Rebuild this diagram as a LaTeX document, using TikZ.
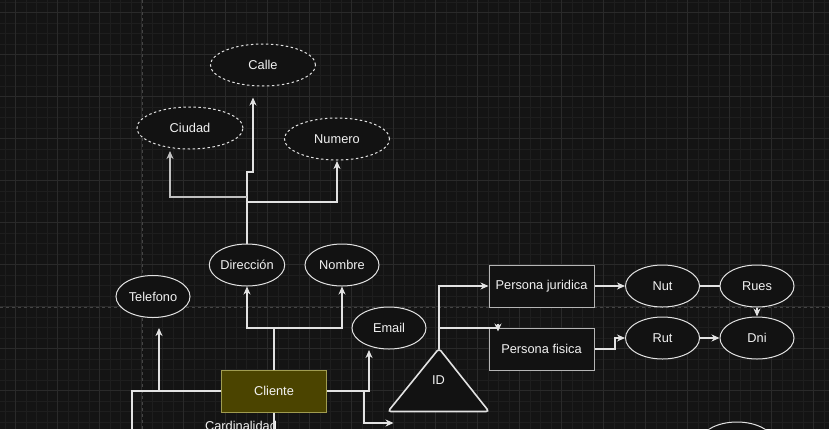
\documentclass[tikz,border=0pt]{standalone}
\usepackage{fontspec}
\setmainfont{Liberation Sans}
\usetikzlibrary{arrows.meta,shapes.geometric}
\definecolor{bgc}{HTML}{141414}
\definecolor{gminor}{HTML}{1E1E1E}
\definecolor{gmajor}{HTML}{2A2A2A}
\definecolor{pbreak}{HTML}{444444}
\definecolor{strk}{HTML}{E2E2E2}
\definecolor{fillc}{HTML}{121212}
\definecolor{olive}{HTML}{4B4400}
\definecolor{oliveb}{HTML}{A09C50}
\definecolor{txt}{HTML}{F2F2F2}
\tikzset{
  lbl/.style={text=txt, font=\fontsize{12.8}{15}\selectfont},
  attr/.style={lbl, ellipse, draw=strk, fill=fillc, line width=1pt, minimum width=74pt, minimum height=42pt, inner sep=0pt},
  dattr/.style={attr, minimum width=105pt, dash pattern=on 2.5pt off 2.5pt},
  ent/.style={lbl, rectangle, draw=strk!80!black, fill=fillc, line width=1pt, minimum width=105pt, minimum height=42pt, inner sep=0pt},
  conn/.style={draw=strk, line width=1.2pt},
  arr/.style={conn, -{Stealth[length=8pt,width=7pt,inset=2.5pt]}},
}
\begin{document}
\begin{tikzpicture}[x=1pt,y=-1pt]
\useasboundingbox (0,0) rectangle (829,429);
\clip (0,0) rectangle (829,429);
\fill[bgc] (0,0) rectangle (829,429);
% grid
\foreach \i in {0,...,79} {\draw[gminor, line width=0.6pt] ({4.8+10.5*\i},0) -- ({4.8+10.5*\i},429);}
\foreach \i in {0,...,41} {\draw[gminor, line width=0.6pt] (0,{1.8+10.5*\i}) -- (829,{1.8+10.5*\i});}
\foreach \i in {0,...,19} {\draw[gmajor, line width=0.8pt] ({15.3+42*\i},0) -- ({15.3+42*\i},429);}
\foreach \i in {0,...,10} {\draw[gmajor, line width=0.8pt] (0,{12.3+42*\i}) -- (829,{12.3+42*\i});}
\draw[pbreak, dash pattern=on 3pt off 3pt, line width=0.8pt] (142,0) -- (142,429);
\draw[pbreak, dash pattern=on 3pt off 3pt, line width=0.8pt] (0,307) -- (829,307);

% nodes
\node[dattr] (calle) at (263,65) {Calle};
\node[dattr, minimum width=106pt] (ciu) at (190,128) {Ciudad};
\node[dattr] (num) at (337,139) {Numero};
\node[attr] (dir) at (247,265) {Dirección};
\node[attr] (nom) at (342,265) {Nombre};
\node[attr] (tel) at (153,296.5) {Telefono};
\node[attr] (ema) at (389,328) {Email};
\node[ent, fill=olive, draw=oliveb] (cli) at (274,391) {Cliente};
\node[lbl, anchor=base] (card) at (241,430) {Cardinalidad};
\node[ent] (pj) at (541.5,286) {Persona juridica};
\node[ent] (pf) at (541.5,349) {Persona fisica};
\node[attr] (nut) at (662.5,286) {Nut};
\node[attr] (rues) at (757,286) {Rues};
\node[attr] (rut) at (662.5,338) {Rut};
\node[attr] (dni) at (757,338) {Dni};
\node[attr] (extra) at (737,443) {};
% ID triangle
\draw[strk, fill=fillc, line width=1.6pt, rounded corners=3pt] (439,348.5) -- (489,411.5) -- (388,411.5) -- cycle;
\coordinate (idtop) at (439,348.5);
\node[lbl] (id) at (438.5,380) {ID};

% coordinates
\coordinate (d0) at (247,172);
\coordinate (d0b) at (253,172);
\coordinate (calleT) at (253,97.5);
\coordinate (d1) at (247,197);
\coordinate (ciuT) at (170,151);
\coordinate (d2) at (247,202);
\coordinate (numT) at (337,161);
\coordinate (j1) at (274,328);
\coordinate (cl) at (132,391);
\coordinate (clB) at (132,429);
\coordinate (t0) at (159,391);
\coordinate (telT) at (159,328);
\coordinate (e0) at (369,391);
\coordinate (emaT) at (369,350);
\coordinate (r0) at (364,391);
\coordinate (r1) at (364,423);
\coordinate (idT) at (393.5,423);
\coordinate (cliB) at (274,429);
\coordinate (i1) at (439,286);
\coordinate (i2) at (439,328);
\coordinate (i3) at (498,328);
\coordinate (i3a) at (498,323.5);
\coordinate (pfT) at (498,331.5);
\coordinate (f1) at (615,349);
\coordinate (f2) at (615,338);

% connectors
\draw[arr] (dir.north) -- (d0) -- (d0b) -- (calleT);
\draw[arr, draw=strk!85!black] (d1) -| (ciuT);
\draw[arr] (d2) -| (numT);
\draw[arr] (cli.north) -- (j1) -| (dir.south);
\draw[arr] (j1) -| (nom.south);
\draw[conn] (cli.west) -- (cl) -- (clB);
\draw[arr] (t0) -- (telT);
\draw[arr] (cli.east) -- (e0) -- (emaT);
\draw[arr] (r0) -- (r1) -- (idT);
\draw[conn] (cli.south) -- (cliB);
\draw[arr] (idtop) -- (i1) -- (pj.west);
\draw[conn] (i2) -- (i3);
\draw[arr] (i3a) -- (pfT);
\draw[arr] (pj.east) -- (nut.west);
\draw[conn] (nut.east) -- (rues.west);
\draw[arr] (rues.south) -- (dni.north);
\draw[arr] (pf.east) -- (f1) -- (f2) -- (rut.west);
\draw[arr] (rut.east) -- (dni.west);
\end{tikzpicture}
\end{document}
